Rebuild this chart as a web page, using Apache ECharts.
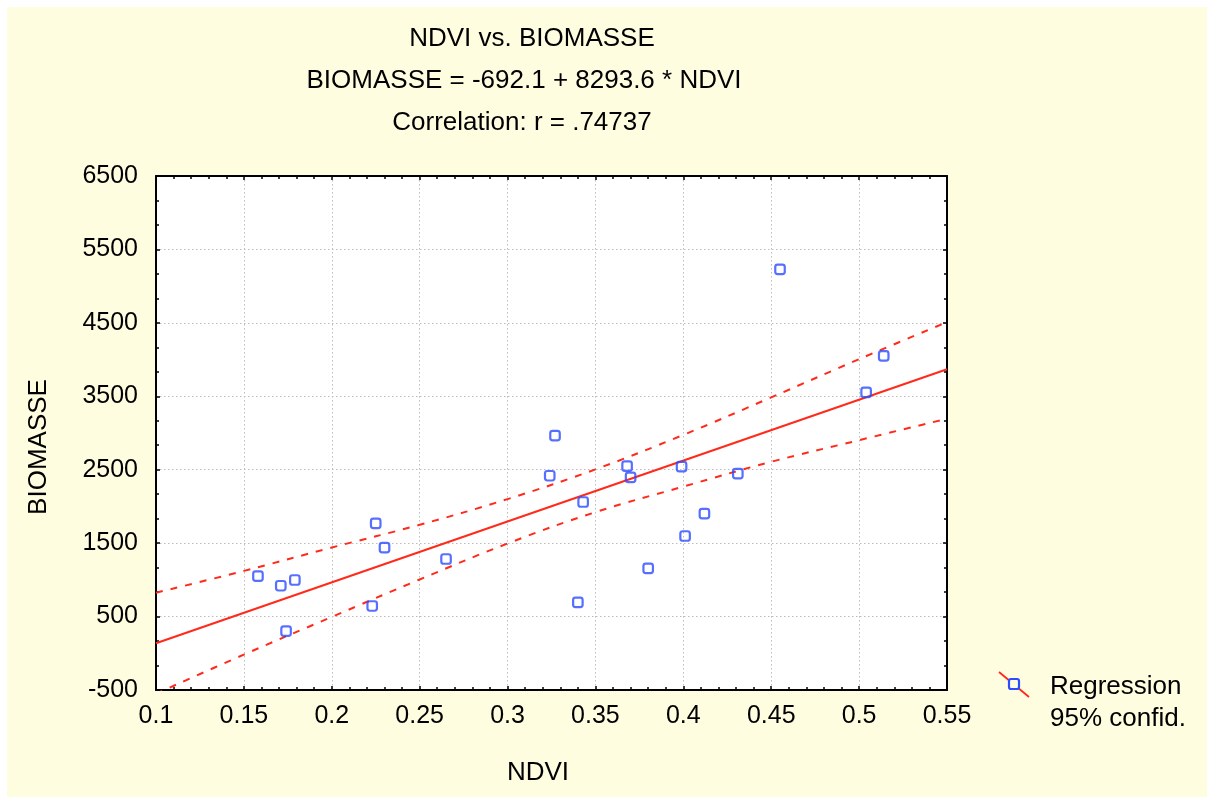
<!DOCTYPE html>
<html>
<head>
<meta charset="utf-8">
<script src="https://cdn.jsdelivr.net/npm/echarts@6/dist/echarts.min.js"></script>
<style>
  html, body { margin: 0; padding: 0; background: #ffffff; }
  #bg { position: absolute; left: 7px; top: 7px; width: 1200px; height: 790px; background: #FFFDE0; }
  #chart { position: absolute; left: 0; top: 0; width: 1207px; height: 798px; }
</style>
</head>
<body>
<div id="bg"></div>
<div id="chart"></div>
<script>
// ---- data ----
const titleLines = ['NDVI vs. BIOMASSE', 'BIOMASSE = -692.1 + 8293.6 * NDVI', 'Correlation: r = .74737'];
const xAxisTitle = 'NDVI';
const yAxisTitle = 'BIOMASSE';
const legendLabels = ['Regression', '95% confid.'];

const ndvi     = [0.158, 0.171, 0.174, 0.179, 0.223, 0.225, 0.230, 0.265, 0.324, 0.327, 0.340, 0.343, 0.368, 0.370, 0.380, 0.399, 0.401, 0.412, 0.431, 0.455, 0.504, 0.514];
const biomasse = [1052,  920,   303,   998,   644,   1770,  1438,  1284,  2418,  2963,  694,   2060,  2550,  2396,  1157,  2541,  1597,  1901,  2446,  5229,  3554,  4049];

const regX = [0.1, 0.55];
const regY = [137, 3869];

const bandX     = [0.1,  0.15, 0.2,  0.25, 0.3,  0.35, 0.4,  0.45, 0.5,  0.55];
const bandUpper = [825,  1122, 1440, 1750, 2100, 2505, 2974, 3485, 4006, 4510];
const bandLower = [-551, -18,  495,  1005, 1495, 1922, 2270, 2608, 2902, 3195];

const xTicks = { min: 0.1, max: 0.55, step: 0.05 };
const yTicks = { min: -500, max: 6500, step: 1000 };

// ---- chart ----
const FONT = '"Liberation Sans", Arial, sans-serif';
const RED = '#FF2A1A';
const BLUE = '#2D4BFF';
const chart = echarts.init(document.getElementById('chart'), null, { renderer: 'canvas' });

const zip = (a, b) => a.map((v, i) => [v, b[i]]);

const baseAxis = {
  type: 'value',
  axisLine: { show: true, onZero: false, lineStyle: { color: '#000', width: 2 } },
  axisTick: { show: true, inside: true, length: 4, lineStyle: { color: '#000', width: 1.5 } },
  minorTick: { show: true, length: 3, lineStyle: { color: '#000', width: 1.5 } },
  axisLabel: { color: '#000', fontFamily: FONT, fontSize: 25 },
  splitLine: { show: true, lineStyle: { color: '#bcbcbc', width: 1, type: [1.5, 2.5] } }
};

const option = {
  backgroundColor: 'transparent',
  animation: false,
  grid: { left: 156, top: 176, right: 260, bottom: 108, show: true, backgroundColor: '#ffffff', borderWidth: 0 },
  xAxis: [
    Object.assign({}, baseAxis, {
      position: 'bottom', min: xTicks.min, max: xTicks.max, interval: xTicks.step,
      minorTick: Object.assign({}, baseAxis.minorTick, { splitNumber: 5 }),
      axisLabel: Object.assign({}, baseAxis.axisLabel, { margin: 14, formatter: v => String(+v.toFixed(2)) })
    }),
    Object.assign({}, baseAxis, {
      position: 'top', min: xTicks.min, max: xTicks.max, interval: xTicks.step,
      minorTick: Object.assign({}, baseAxis.minorTick, { splitNumber: 5 }),
      axisLabel: { show: false }, splitLine: { show: false }
    })
  ],
  yAxis: [
    Object.assign({}, baseAxis, {
      position: 'left', min: yTicks.min, max: yTicks.max, interval: yTicks.step,
      minorTick: Object.assign({}, baseAxis.minorTick, { splitNumber: 3 }),
      axisLabel: Object.assign({}, baseAxis.axisLabel, { margin: 18, formatter: v => String(v) })
    }),
    Object.assign({}, baseAxis, {
      position: 'right', min: yTicks.min, max: yTicks.max, interval: yTicks.step,
      minorTick: Object.assign({}, baseAxis.minorTick, { splitNumber: 3 }),
      axisLabel: { show: false }, splitLine: { show: false }
    })
  ],
  series: [
    {
      name: 'upper', type: 'line', data: zip(bandX, bandUpper), smooth: 0.4, symbol: 'none', clip: true,
      lineStyle: { color: RED, width: 2, type: [7, 8] }, z: 2
    },
    {
      name: 'lower', type: 'line', data: zip(bandX, bandLower), smooth: 0.4, symbol: 'none', clip: true,
      lineStyle: { color: RED, width: 2, type: [7, 8] }, z: 2
    },
    {
      name: 'Regression', type: 'line', data: zip(regX, regY), symbol: 'none', clip: true,
      lineStyle: { color: RED, width: 2 }, z: 3
    },
    {
      name: 'points', type: 'scatter', data: zip(ndvi, biomasse), symbol: 'roundRect', symbolSize: 9.5,
      itemStyle: { color: 'rgba(255,255,255,0)', borderColor: BLUE, borderWidth: 2.2 }, z: 4
    }
  ],
  graphic: [
    { type: 'text', x: 532, y: 39, style: { text: titleLines[0], font: '26px ' + FONT, fill: '#000', textAlign: 'center', textVerticalAlign: 'middle' } },
    { type: 'text', x: 524, y: 81, style: { text: titleLines[1], font: '26px ' + FONT, fill: '#000', textAlign: 'center', textVerticalAlign: 'middle' } },
    { type: 'text', x: 522, y: 123, style: { text: titleLines[2], font: '26px ' + FONT, fill: '#000', textAlign: 'center', textVerticalAlign: 'middle' } },
    { type: 'text', x: 538, y: 773, style: { text: xAxisTitle, font: '26px ' + FONT, fill: '#000', textAlign: 'center', textVerticalAlign: 'middle' } },
    { type: 'text', x: 39, y: 447, rotation: Math.PI / 2, style: { text: yAxisTitle, font: '26px ' + FONT, fill: '#000', textAlign: 'center', textVerticalAlign: 'middle' } },
    { type: 'line', shape: { x1: 999, y1: 672, x2: 1029, y2: 697 }, style: { stroke: RED, lineWidth: 1.8 } },
    { type: 'rect', shape: { x: 1009, y: 679, width: 10, height: 10, r: 2 }, style: { stroke: BLUE, lineWidth: 2.2, fill: '#FFFDE0' } },
    { type: 'text', x: 1050, y: 687, style: { text: legendLabels[0], font: '26px ' + FONT, fill: '#000', textAlign: 'left', textVerticalAlign: 'middle' } },
    { type: 'text', x: 1050, y: 719, style: { text: legendLabels[1], font: '26px ' + FONT, fill: '#000', textAlign: 'left', textVerticalAlign: 'middle' } }
  ]
};
chart.setOption(option);
</script>
</body>
</html>
